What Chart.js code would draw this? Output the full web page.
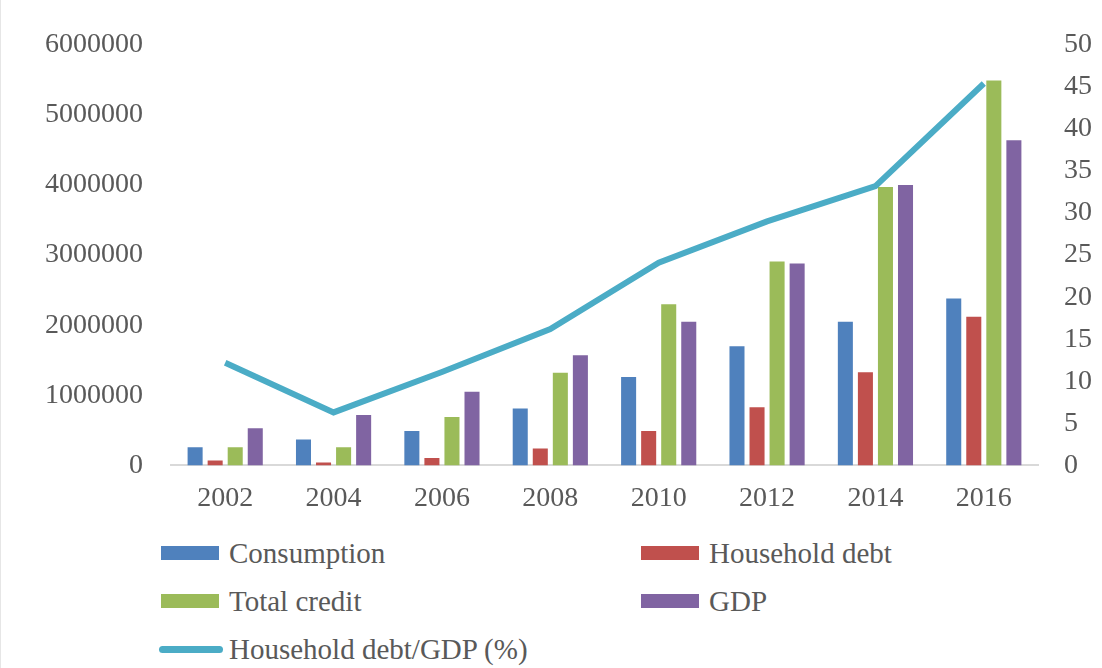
<!DOCTYPE html>
<html>
<head>
<meta charset="utf-8">
<script src="https://cdn.jsdelivr.net/npm/chart.js@4/dist/chart.umd.min.js"></script>
<style>
    body { margin: 0; background: #fff; overflow: hidden; }
    #wrap { position: relative; width: 1102px; height: 668px; border-left: 1px solid #e6e6e6; box-sizing: border-box; }
    #grafico { position: absolute; left: 0; top: 0; }
    .leyenda { position: absolute; font-family: "Liberation Serif", "Times New Roman", serif; font-size: 29px; color: #595959; line-height: 32px; white-space: nowrap; }
    .caja { position: absolute; width: 58px; height: 14px; top: 9px; }
    .linea { position: absolute; width: 64px; height: 7px; top: 13px; border-radius: 4px; }
    .leyenda span.txt { position: absolute; left: 68px; top: 0; }
</style>
</head>
<body>
<div id="wrap">
    <canvas id="grafico" width="1101" height="537"></canvas>
    <div id="leyendas"></div>
</div>
<script>
var anios = ['2002', '2004', '2006', '2008', '2010', '2012', '2014', '2016'];
var consumo = [260000, 370000, 490000, 810000, 1260000, 1700000, 2050000, 2380000];
var deudaHogares = [70000, 40000, 105000, 240000, 490000, 830000, 1330000, 2120000];
var creditoTotal = [260000, 260000, 690000, 1320000, 2300000, 2910000, 3970000, 5490000];
var pib = [530000, 720000, 1050000, 1570000, 2050000, 2880000, 4000000, 4640000];
var deudaPib = [12.2, 6.3, 11.1, 16.2, 24.1, 29.0, 33.2, 45.4];

var colores = ['#4F81BD', '#C0504D', '#9BBB59', '#8064A2', '#4BACC6'];
var fuente = { family: '"Liberation Serif", "Times New Roman", serif', size: 28 };

function barra(label, data, color) {
    return {
        type: 'bar',
        label: label,
        data: data,
        backgroundColor: color,
        yAxisID: 'y',
        order: 1,
        barPercentage: 0.75,
        categoryPercentage: 0.74
    };
}

var canvas = document.getElementById("grafico");
var grafico = new Chart(canvas, {
    data: {
        labels: anios,
        datasets: [
            {
                type: 'line',
                label: 'Household debt/GDP (%)',
                data: deudaPib,
                borderColor: colores[4],
                borderWidth: 6,
                pointRadius: 0,
                tension: 0,
                yAxisID: 'y1',
                order: 0
            },
            barra('Consumption', consumo, colores[0]),
            barra('Household debt', deudaHogares, colores[1]),
            barra('Total credit', creditoTotal, colores[2]),
            barra('GDP', pib, colores[3])
        ]
    },
    options: {
        responsive: false,
        animation: false,
        layout: { padding: { left: 16, right: -16, top: 36, bottom: 6 } },
        plugins: {
            legend: { display: false },
            tooltip: { enabled: false }
        },
        scales: {
            x: {
                grid: { drawOnChartArea: false, drawTicks: false },
                border: { color: '#d9d9d9', width: 2 },
                ticks: { color: '#595959', font: fuente, padding: 16 }
            },
            y: {
                position: 'left',
                min: 0,
                max: 6000000,
                grid: { display: false, drawTicks: false },
                border: { display: false },
                ticks: {
                    stepSize: 1000000,
                    color: '#595959',
                    font: fuente,
                    padding: 28,
                    callback: function (valor) { return valor; }
                }
            },
            y1: {
                position: 'right',
                min: 0,
                max: 50,
                grid: { display: false, drawTicks: false },
                border: { display: false },
                ticks: { stepSize: 5, color: '#595959', font: fuente, padding: 26 }
            }
        }
    }
});

// leyenda en dos columnas debajo del grafico
var items = [
    { texto: 'Consumption', color: colores[0], x: 160, y: 537, linea: false },
    { texto: 'Household debt', color: colores[1], x: 640, y: 537, linea: false },
    { texto: 'Total credit', color: colores[2], x: 160, y: 585, linea: false },
    { texto: 'GDP', color: colores[3], x: 640, y: 585, linea: false },
    { texto: 'Household debt/GDP (%)', color: colores[4], x: 158, y: 633, linea: true }
];
var contenedor = document.getElementById("leyendas");
items.forEach(item => {
    var div = document.createElement("div");
    div.className = "leyenda";
    div.style.left = item.x + "px";
    div.style.top = item.y + "px";
    var marca = document.createElement("span");
    marca.className = item.linea ? "linea" : "caja";
    marca.style.background = item.color;
    var txt = document.createElement("span");
    txt.className = "txt";
    txt.textContent = item.texto;
    if (item.linea) {
        txt.style.left = "70px";
    }
    div.appendChild(marca);
    div.appendChild(txt);
    contenedor.appendChild(div);
});
</script>
</body>
</html>
